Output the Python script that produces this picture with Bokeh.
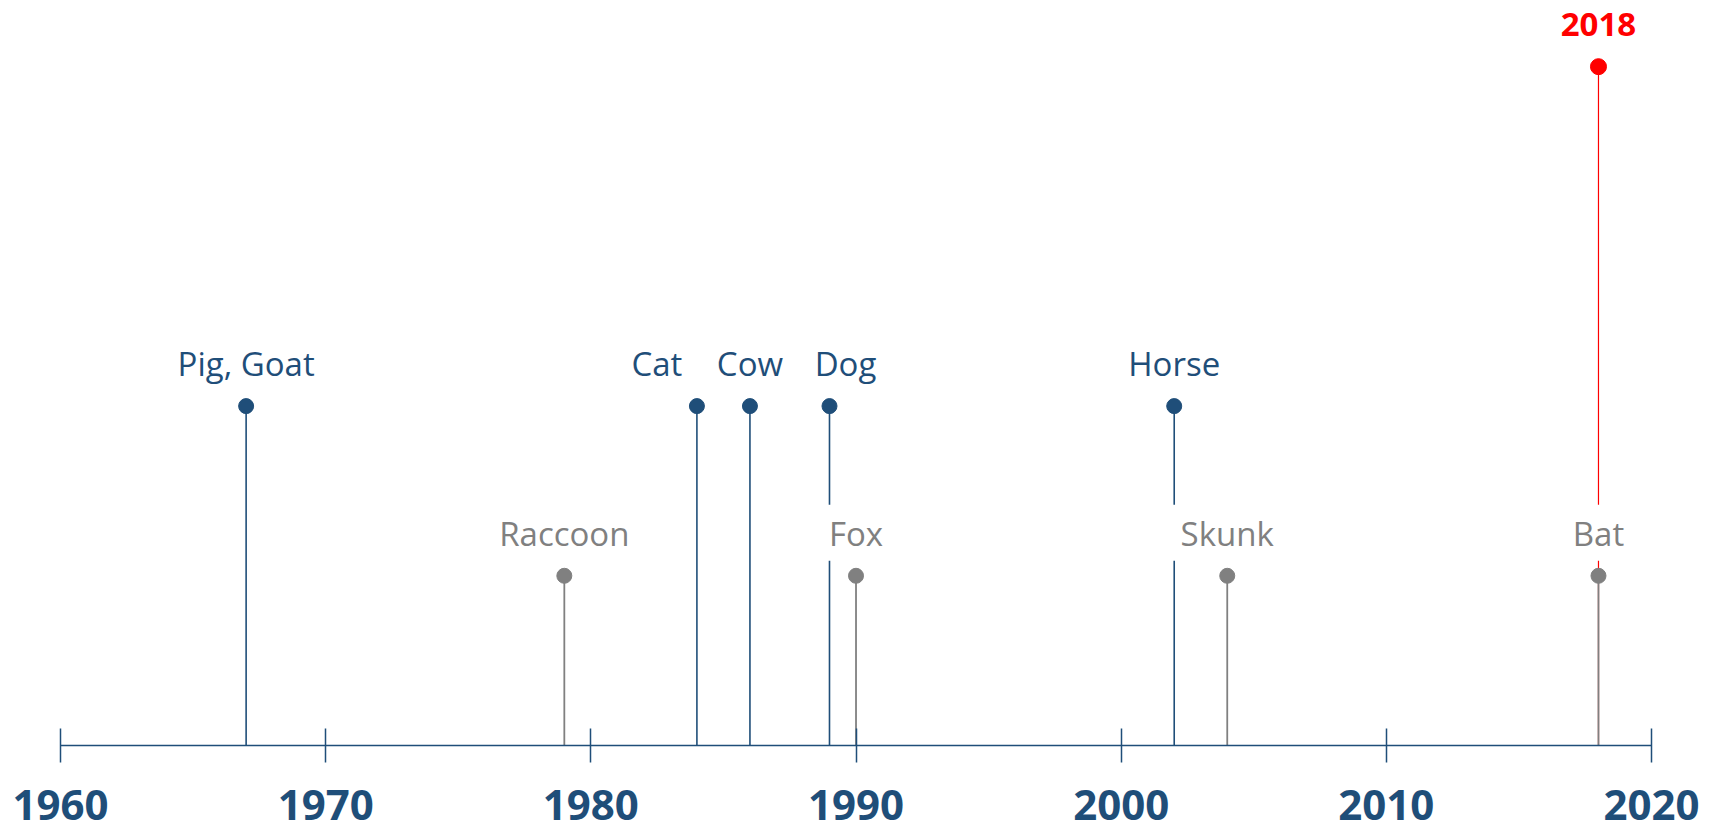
from bokeh.plotting import figure
from bokeh.models import LinearAxis, FixedTicker, Range1d, ColumnDataSource
from bokeh.core.properties import value
from bokeh.embed import file_html
from bokeh.resources import INLINE

# ---- data ----
domestic_names = ["Pig, Goat", "Cat", "Cow", "Dog", "Horse"]
domestic_years = [1967, 1984, 1986, 1989, 2002]
domestic_level = [2, 2, 2, 2, 2]

wild_names = ["Raccoon", "Fox", "Skunk", "Bat"]
wild_years = [1979, 1990, 2004, 2018]
wild_level = [1, 1, 1, 1]

highlight_names = ["2018"]
highlight_years = [2018]
highlight_level = [4]

decade_ticks = [1960, 1970, 1980, 1990, 2000, 2010, 2020]

# label nudges (screen px) to avoid overlaps
label_nudge = {"Cat": -40, "Dog": 16}

BLUE = "#1F4E79"
GRAY = "#808080"
RED = "#FF0000"
FONT = "Open Sans"

p = figure(width=1715, height=830,
           x_range=Range1d(1957.737, 2022.413),
           y_range=Range1d(-0.5009, 4.390),
           x_axis_type=None, y_axis_type=None,
           output_backend="svg", toolbar_location=None, min_border=0)
p.outline_line_color = None
p.grid.visible = False
p.background_fill_color = "white"

axis = LinearAxis(ticker=FixedTicker(ticks=decade_ticks), fixed_location=0,
                  bounds=(decade_ticks[0], decade_ticks[-1]))
axis.axis_line_color = BLUE
axis.axis_line_width = 1.5
axis.major_tick_line_color = BLUE
axis.major_tick_line_width = 1.5
axis.major_tick_in = 17
axis.major_tick_out = 17
axis.minor_tick_line_color = None
axis.major_label_text_font = FONT
axis.major_label_text_font_style = "bold"
axis.major_label_text_font_size = "42px"
axis.major_label_text_color = BLUE
axis.major_label_standoff = 28
p.add_layout(axis, "below")


def src(names, years, levels):
    return ColumnDataSource(dict(name=names, x=years, y=levels,
                                 y0=[0] * len(years),
                                 dx=[label_nudge.get(n, 0) for n in names]))


hs = src(highlight_names, highlight_years, highlight_level)
ds = src(domestic_names, domestic_years, domestic_level)
ws = src(wild_names, wild_years, wild_level)

# stems
p.segment(x0="x", y0="y0", x1="x", y1="y", source=hs, line_color=RED, line_width=1.2)
p.segment(x0="x", y0="y0", x1="x", y1="y", source=ds, line_color=BLUE, line_width=1.6)
p.segment(x0="x", y0="y0", x1="x", y1="y", source=ws, line_color=GRAY, line_width=1.8)

# labels (white box hides stems behind them)
common = dict(x="x", y="y", text="name", x_offset="dx", y_offset=-43,
              text_align="center", text_baseline="alphabetic",
              text_font=value(FONT), text_font_size="33px",
              background_fill_color="white",
              padding=dict(left=12, right=12, top=6, bottom=5))
p.text(source=ds, text_color=BLUE, **common)
p.text(source=ws, text_color=GRAY, **common)
p.text(source=hs, text_color=RED, text_font_style="bold", **common)

# dots
p.scatter(x="x", y="y", source=hs, size=16, color=RED)
p.scatter(x="x", y="y", source=ds, size=15, color=BLUE)
p.scatter(x="x", y="y", source=ws, size=15, color=GRAY)

open("out.html", "w").write(file_html(p, INLINE))
